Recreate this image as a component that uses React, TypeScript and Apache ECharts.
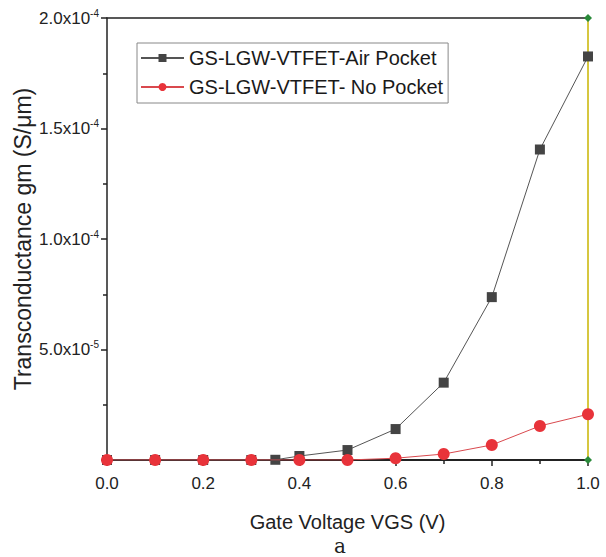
import React, { useEffect, useRef } from "react";
import * as echarts from "echarts";

const xAir = [0, 0.1, 0.2, 0.3, 0.35, 0.4, 0.5, 0.6, 0.7, 0.8, 0.9, 1.0];
const yAir = [0, 0, 0, 0, 0.1e-6, 1.8e-6, 4.5e-6, 1.4e-5, 3.5e-5, 7.37e-5, 1.405e-4, 1.826e-4];
const xNo = [0, 0.1, 0.2, 0.3, 0.4, 0.5, 0.6, 0.7, 0.8, 0.9, 1.0];
const yNo = [0, 0, 0, 0, 0, 0, 0.8e-6, 2.7e-6, 6.8e-6, 1.54e-5, 2.07e-5];
const xEdge = [1.0, 1.0];
const yEdge = [0, 2.0e-4];
const seriesNames = ["GS-LGW-VTFET-Air Pocket", "GS-LGW-VTFET- No Pocket"];

export default function App() {
  const ref = useRef<HTMLDivElement>(null);
  useEffect(() => {
    const chart = echarts.init(ref.current!, null, { renderer: "svg" });
    const font = "Liberation Sans, Arial, sans-serif";
    const fmtY = (v: number) => {
      if (Math.abs(v) < 1e-12) return "";
      const exp = Math.floor(Math.log10(v) + 1e-9);
      const m = v / Math.pow(10, exp);
      return "{b|" + m.toFixed(1) + "x10}{s|" + exp + "}";
    };
    chart.setOption({
      animation: false,
      backgroundColor: "#fff",
      grid: { left: 107, right: 18, top: 18, bottom: 97 },
      legend: {
        orient: "vertical",
        left: 137,
        top: 43,
        data: seriesNames,
        itemWidth: 43,
        itemHeight: 10,
        itemGap: 9,
        padding: [5, 5, 6, 3],
        borderColor: "#888",
        borderWidth: 1,
        textStyle: { fontFamily: font, fontSize: 20, color: "#1a1a1a" },
      },
      xAxis: [
        {
          type: "value",
          min: 0,
          max: 1,
          interval: 0.2,
          position: "bottom",
          name: "Gate Voltage VGS (V)",
          nameLocation: "middle",
          nameGap: 52,
          nameMoveOverlap: false,
          nameTextStyle: { fontFamily: font, fontSize: 20, color: "#222" },
          axisLine: { show: true, lineStyle: { color: "#222", width: 2 } },
          axisTick: { show: true, inside: false, length: 6, lineStyle: { color: "#222", width: 1.5 } },
          minorTick: { show: true, splitNumber: 2, length: 4, lineStyle: { color: "#222", width: 1.5 } },
          axisLabel: { fontFamily: font, fontSize: 17, color: "#222", margin: 15, formatter: (v: number) => v.toFixed(1) },
          splitLine: { show: false },
        },
        {
          type: "value",
          min: 0,
          max: 1,
          position: "top",
          axisLine: { show: true, lineStyle: { color: "#222", width: 1.5 } },
          axisTick: { show: false },
          axisLabel: { show: false },
          splitLine: { show: false },
        },
      ],
      yAxis: {
        type: "value",
        min: 0,
        max: 2.0e-4,
        interval: 5.0e-5,
        name: "Transconductance gm (S/μm)",
        nameLocation: "middle",
        nameGap: 73,
        nameMoveOverlap: false,
        nameTextStyle: { fontFamily: font, fontSize: 23, color: "#222" },
        axisLine: { show: true, lineStyle: { color: "#222", width: 1.5 } },
        axisTick: { show: true, inside: false, length: 6, lineStyle: { color: "#222", width: 1.5 } },
        minorTick: { show: true, splitNumber: 2, length: 4, lineStyle: { color: "#222", width: 1.5 } },
        axisLabel: {
          margin: 8,
          formatter: fmtY,
          rich: {
            b: { fontFamily: font, fontSize: 17, color: "#222" },
            s: { fontFamily: font, fontSize: 10, color: "#222", padding: [0, 0, 10, 0] },
          },
        },
        splitLine: { show: false },
      },
      series: [
        {
          name: "edge",
          type: "line",
          data: xEdge.map((x, i) => [x, yEdge[i]]),
          symbol: "diamond",
          symbolSize: 8,
          itemStyle: { color: "#2a8a3a" },
          lineStyle: { color: "#c8b400", width: 1.5 },
          z: 1,
        },
        {
          name: seriesNames[0],
          type: "line",
          data: xAir.map((x, i) => [x, yAir[i]]),
          symbol: "rect",
          symbolSize: 10,
          itemStyle: { color: "#444" },
          lineStyle: { color: "#555", width: 1 },
          z: 2,
        },
        {
          name: seriesNames[1],
          type: "line",
          data: xNo.map((x, i) => [x, yNo[i]]),
          symbol: "circle",
          symbolSize: 12,
          itemStyle: { color: "#e8333a" },
          lineStyle: { color: "#d9494e", width: 1 },
          z: 3,
        },
      ],
      graphic: [
        {
          type: "text",
          x: 340,
          y: 546,
          style: {
            text: "a",
            fontFamily: "DejaVu Serif, serif",
            fontSize: 20,
            fill: "#222",
            align: "center",
            verticalAlign: "middle",
          },
        },
      ],
    });
    return () => chart.dispose();
  }, []);
  return (
    <div
      ref={ref}
      style={{ position: "absolute", left: 0, top: 0, width: 606, height: 557 }}
    />
  );
}
